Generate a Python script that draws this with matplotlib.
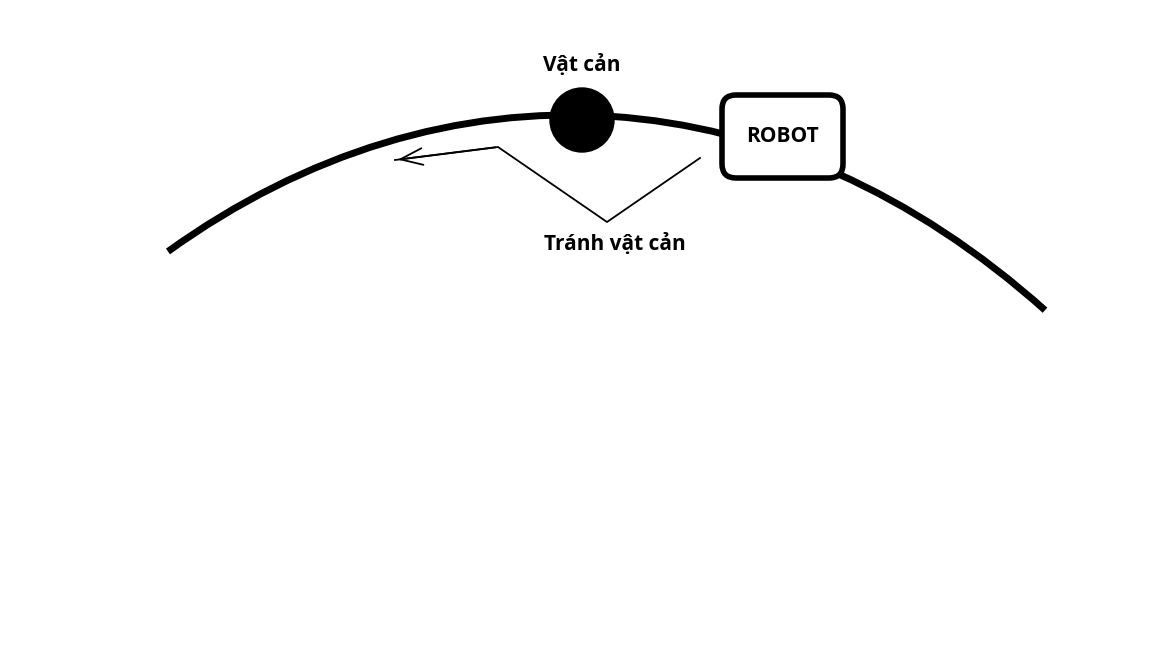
import numpy as np
import matplotlib.pyplot as plt
from matplotlib.patches import Arc, Circle, FancyBboxPatch

# diagram geometry, in pixel coordinates of the 1152x648 picture
track_center = (570, 1411)
track_size = (1800, 2592)
track_ends_x = [168, 1045]
obstacle_xy = (582, 120)
obstacle_r = 32
robot_box = (722, 95, 121, 83)
path_x = [700, 607, 498, 395]
path_y = [158, 222, 147, 160]
labels = ['Vật cản', 'ROBOT', 'Tránh vật cản']
label_xy = [(582, 65), (782, 136), (615, 244)]

fig = plt.figure(figsize=(11.52, 6.48), dpi=100)
ax = fig.add_axes([0, 0, 1, 1])
ax.set_xlim(0, 1152)
ax.set_ylim(648, 0)
ax.axis('off')

a = track_size[0] / 2
b = track_size[1] / 2


def end_angle(x_end):
    # parametric angle -> geometric angle, which Arc expects
    t = -np.arccos((x_end - track_center[0]) / a)
    return np.degrees(np.arctan2(b * np.sin(t), a * np.cos(t))) % 360


t1 = end_angle(track_ends_x[0])
t2 = end_angle(track_ends_x[1])
ax.add_patch(Arc(track_center, track_size[0], track_size[1], theta1=t1, theta2=t2,
                 lw=5, color='black'))

ax.add_patch(Circle(obstacle_xy, obstacle_r, color='black', zorder=3))

x, y, w, h = robot_box
ax.add_patch(FancyBboxPatch((x, y), w, h, boxstyle='round,pad=0,rounding_size=14',
                            facecolor='white', edgecolor='black', lw=4, zorder=4))

ax.plot(path_x, path_y, color='black', lw=1.3)
ax.annotate('', xy=(path_x[-1], path_y[-1]), xytext=(path_x[-2], path_y[-2]),
            arrowprops=dict(arrowstyle='->,head_length=1.6,head_width=0.6', lw=1.3, color='black'))

for text, (tx, ty) in zip(labels, label_xy):
    ax.text(tx, ty, text, ha='center', va='center', fontsize=15, fontweight='bold',
            family=['Open Sans', 'DejaVu Sans'], zorder=5)

plt.savefig('out.png', dpi=100)
